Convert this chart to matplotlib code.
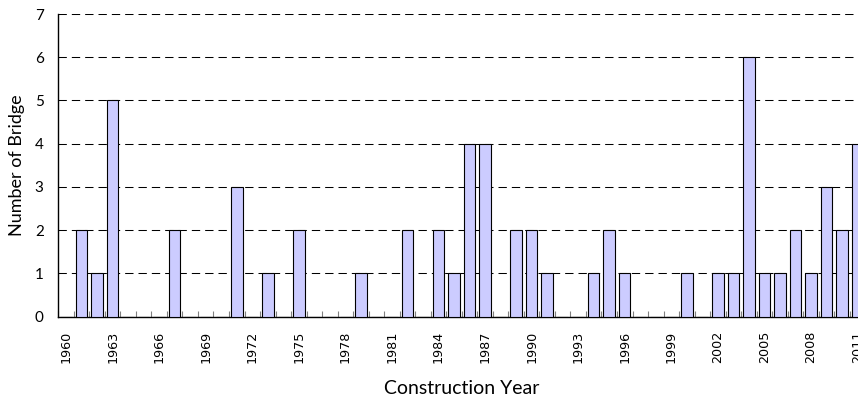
import matplotlib
matplotlib.use("Agg")
import matplotlib.pyplot as plt
import numpy as np

years = list(range(1960, 2012))
counts_by_year = {
    1961: 2, 1962: 1, 1963: 5, 1967: 2, 1971: 3, 1973: 1, 1975: 2,
    1979: 1, 1982: 2, 1984: 2, 1985: 1, 1986: 4, 1987: 4, 1989: 2,
    1990: 2, 1991: 1, 1994: 1, 1995: 2, 1996: 1, 2000: 1, 2002: 1,
    2003: 1, 2004: 6, 2005: 1, 2006: 1, 2007: 2, 2008: 1, 2009: 3,
    2010: 2, 2011: 4,
}
counts = [counts_by_year.get(y, 0) for y in years]
tick_years = list(range(1960, 2012, 3))
y_ticks = list(range(0, 8))

fig = plt.figure(figsize=(8.58, 4.03), dpi=100)
ax = fig.add_axes([58.3 / 858, 86.3 / 403, 807.0 / 858, 302.7 / 403])

ax.bar(years, counts, width=0.74, color="#CCCCFF", edgecolor="black",
       linewidth=0.8, zorder=3)

ax.set_xlim(1959.5, 2011.5)
ax.set_ylim(0, 7)

for v in y_ticks[1:]:
    ax.axhline(v, color="black", linewidth=0.75, linestyle=(0, (8.0, 4.8)),
               zorder=1)

ax.spines["top"].set_visible(False)
ax.spines["right"].set_visible(False)
ax.spines["left"].set_linewidth(1.0)
ax.spines["bottom"].set_linewidth(1.0)

ax.set_yticks(y_ticks)
ax.set_yticklabels([str(v) for v in y_ticks], fontfamily="Lato", fontsize=11)
ax.tick_params(axis="y", length=0, pad=10.5)

ax.set_xticks(tick_years)
ax.set_xticklabels([str(y) for y in tick_years], rotation=90,
                   fontfamily="DejaVu Sans", fontsize=9.2)
ax.tick_params(axis="x", which="major", length=0, pad=10)
ax.set_xticks(np.arange(1959.5, 2012, 1.0), minor=True)
ax.tick_params(axis="x", which="minor", direction="in", length=4,
               width=0.8, color="#808080")

ax.set_xlabel("Construction Year", fontfamily="Lato", fontsize=14, labelpad=12)
ax.set_ylabel("Number of Bridge", fontfamily="Lato", fontsize=13, labelpad=7)

fig.savefig("out.png", dpi=100)
